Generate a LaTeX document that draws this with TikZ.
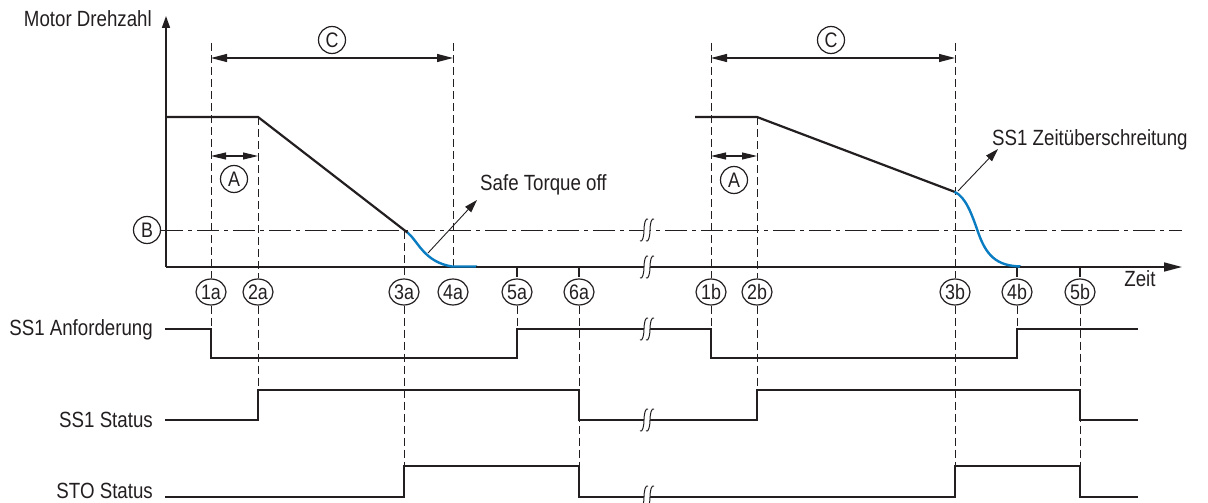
\documentclass[tikz,border=0pt]{standalone}
\usepackage{fontspec}
\setmainfont{Liberation Sans}[FakeStretch=0.85]
\usetikzlibrary{arrows.meta,shapes.geometric}
\definecolor{ink}{HTML}{231F20}
\definecolor{eblue}{HTML}{0A7CC1}
\begin{document}
\begin{tikzpicture}[x=1pt,y=-1pt,
  lbl/.style={font=\fontsize{22}{24}\selectfont, text=ink, inner sep=0pt},
  circ/.style={draw=ink, line width=1.2pt, ellipse, minimum width=30pt, minimum height=26pt, inner sep=0pt, font=\fontsize{21}{21}\selectfont, text=ink},
  rnd/.style={circ, minimum width=27pt, minimum height=27pt},
  sig/.style={draw=ink, line width=2.4pt, line join=miter},
  lvl/.style={draw=ink, line width=2.2pt},
  axis/.style={draw=ink, line width=1.6pt},
  guide/.style={draw=ink, line width=0.9pt, dash pattern=on 8pt off 4pt},
  bline/.style={draw=ink, line width=0.9pt, dash pattern=on 22pt off 5pt on 4pt off 5pt},
  dimC/.style={draw=ink, line width=1.1pt, {Triangle[length=16pt,width=8pt]}-{Triangle[length=16pt,width=8pt]}},
  dimA/.style={draw=ink, line width=1.1pt, {Triangle[length=15pt,width=7pt]}-{Triangle[length=15pt,width=7pt]}},
  ann/.style={draw=ink, line width=0.9pt, -{Triangle[length=13pt,width=8pt]}},
  blu/.style={draw=eblue, line width=2.4pt},
  brk/.pic={
    \fill[white] (-7,11) .. controls (-4.5,12.5) and (-3,6) .. (-3,0) .. controls (-3,-6) and (-1.5,-12.5) .. (1,-11)
      -- (7,-11) .. controls (4.5,-12.5) and (3,-6) .. (3,0) .. controls (3,6) and (1.5,12.5) .. (-1,11) -- cycle;
    \draw[ink, line width=1pt] (-7,11) .. controls (-4.5,12.5) and (-3,6) .. (-3,0) .. controls (-3,-6) and (-1.5,-12.5) .. (1,-11);
    \draw[ink, line width=1pt] (-1,11) .. controls (1.5,12.5) and (3,6) .. (3,0) .. controls (3,-6) and (4.5,-12.5) .. (7,-11);
  }
]
\useasboundingbox (0,0) rectangle (1208,503);

% axes
\draw[axis, -{Triangle[length=12pt,width=8pt]}] (166,267) -- (166,16);
\draw[axis, -{Triangle[length=18pt,width=9pt]}] (166,267) -- (1182,267);
\node[lbl, anchor=base east] (ylab) at (152,27) {Motor Drehzahl};
\node[lbl, anchor=base] (xlab) at (1140,286) {Zeit};

% threshold B
\node[rnd] (B) at (147,230) {B};
\draw[bline] (B.east) -- (1182,230);

% circled time labels
\foreach \n/\x in {1a/211,2a/258,3a/404,4a/453,5a/517,6a/579,1b/711,2b/757,3b/955,4b/1017,5b/1080}
  \node[circ] (c\n) at (\x,292) {\n};

% upper guides
\draw[guide] (211,43) -- (c1a.north);
\draw[guide] (258,117) -- (c2a.north);
\draw[guide] (404,231) -- (c3a.north);
\draw[guide] (453,43) -- (453,267);
\draw[guide] (711,43) -- (c1b.north);
\draw[guide] (757,117) -- (c2b.north);
\draw[guide] (955,43) -- (c3b.north);

% ticks
\foreach \x in {517,579,1017,1080}
  \draw[ink, line width=1.1pt] (\x,267) -- (\x,277);

% lower guides
\draw[guide] (c1a.south) -- (211,329);
\draw[guide] (c2a.south) -- (258,390);
\draw[guide] (c3a.south) -- (404,466);
\draw[guide] (c5a.south) -- (517,329);
\draw[guide] (c6a.south) -- (579,497);
\draw[guide] (c1b.south) -- (711,329);
\draw[guide] (c2b.south) -- (757,390);
\draw[guide] (c3b.south) -- (955,466);
\draw[guide] (c4b.south) -- (1017,329);
\draw[guide] (c5b.south) -- (1080,497);

% speed profile
\draw[lvl] (166,117) -- (258,117) -- (408,233);
\draw[blu] (407.5,232.5) .. controls (418,241) and (424,262) .. (452,266.5) -- (477,266.5);
\draw[lvl] (476,267) -- (590,267);
\draw[lvl] (695,117) -- (757,117) -- (955,192);
\draw[blu] (954.5,191.8) .. controls (966,197) and (972,215) .. (978,232) .. controls (986,255) and (996,266) .. (1021,266.5);
\draw[lvl] (1020,267) -- (1115,267);

% dimensions
\draw[dimC] (211,58) -- (453,58);
\node[rnd] (C1) at (332,40) {C};
\draw[dimC] (711,58) -- (955,58);
\node[rnd] (C2) at (831,40) {C};
\draw[dimA] (211,156) -- (258,156);
\node[rnd] (A1) at (234,179) {A};
\draw[dimA] (711,156) -- (757,156);
\node[rnd] (A2) at (734,180) {A};

% annotations
\coordinate (sto0) at (428,253);
\node[lbl, anchor=base west] (sto) at (480,190) {Safe Torque off};
\draw[ann] (sto0) -- (477,200);
\coordinate (zu0) at (958,191);
\node[lbl, anchor=base west] (zu) at (992,145) {SS1 Zeitüberschreitung};
\draw[ann] (zu0) -- (998,149);

% signals
\node[lbl, anchor=base east] (s1) at (153,335) {SS1 Anforderung};
\node[lbl, anchor=base east] (s2) at (153,427) {SS1 Status};
\node[lbl, anchor=base east] (s3) at (153,498) {STO Status};
\draw[sig] (165,329) -- (211,329) -- (211,358) -- (517,358) -- (517,329) -- (711,329) -- (711,358) -- (1017,358) -- (1017,329) -- (1138,329);
\draw[sig] (165,420) -- (258,420) -- (258,390) -- (579,390) -- (579,420) -- (757,420) -- (757,390) -- (1080,390) -- (1080,420) -- (1138,420);
\draw[sig] (165,497) -- (404,497) -- (404,466) -- (579,466) -- (579,497) -- (955,497) -- (955,466) -- (1080,466) -- (1080,497) -- (1138,497);

% breaks
\foreach \y in {230,267,329,420,497}
  \pic at (647,\y) {brk};
\end{tikzpicture}
\end{document}
